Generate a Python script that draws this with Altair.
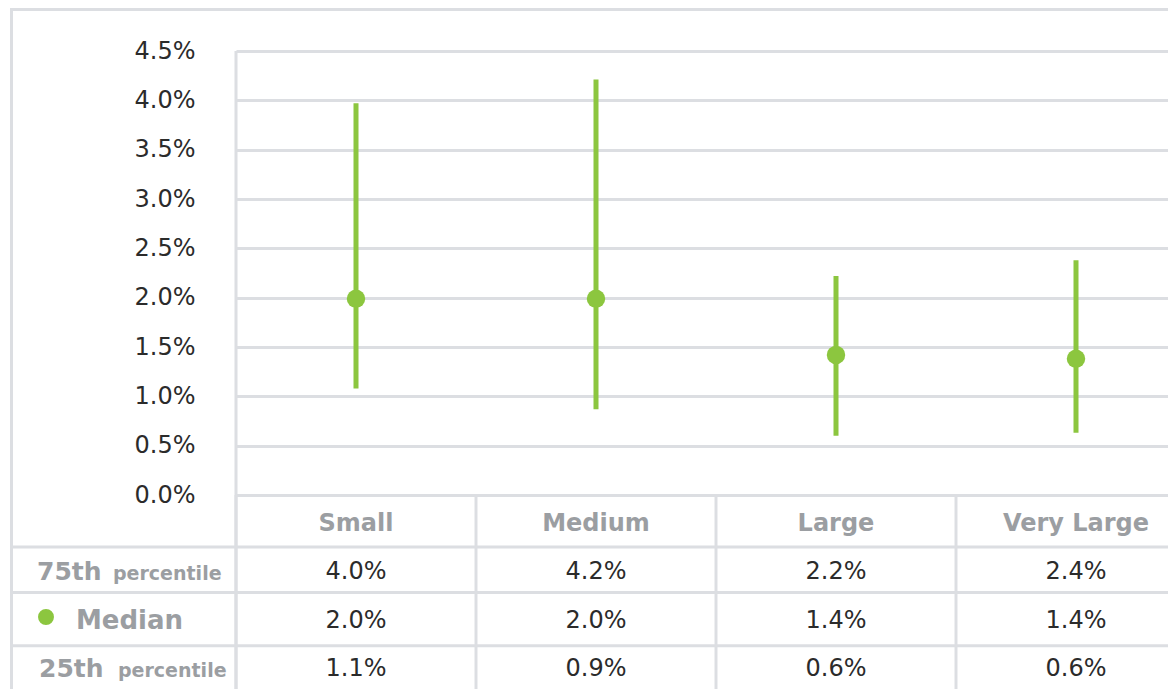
import altair as alt
import pandas as pd

# ---- data ----
categories = ["Small", "Medium", "Large", "Very Large"]
p75 = [3.97, 4.21, 2.22, 2.38]
median = [1.99, 1.99, 1.42, 1.38]
p25 = [1.08, 0.87, 0.60, 0.63]
y_ticks = [0.0, 0.5, 1.0, 1.5, 2.0, 2.5, 3.0, 3.5, 4.0, 4.5]
row_keys = ["header", "p75", "median", "p25"]

GREEN = "#8cc63f"
GRID = "#dcdee2"
GRAY_TXT = "#9b9ea2"
DARK = "#2b2b2b"
FONT = "DejaVu Sans"

df = pd.DataFrame({"cat": categories, "p75": p75, "median": median, "p25": p25})
long = df.melt(id_vars="cat", value_vars=["p75", "median", "p25"],
               var_name="row", value_name="val")
one = pd.DataFrame({"k": [0]})

xscale = alt.Scale(domain=categories, range=[0, 960], paddingInner=0, paddingOuter=0)
yscale = alt.Scale(domain=[0, 4.5], nice=False, zero=True)
rowscale = alt.Scale(domain=row_keys, range=[473, 618], padding=0)

yaxis = alt.Axis(values=y_ticks, labelExpr="format(datum.value, '.1f') + '%'",
                 grid=True, gridColor=GRID, gridWidth=3, domain=False,
                 ticks=False, tickSize=0, labelPadding=41, labelFont=FONT,
                 labelFontSize=24, labelColor=DARK, title=None)


def X(bp=0.5):
    return alt.X("cat:N", scale=xscale, axis=None, sort=categories, bandPosition=bp)


def ROW():
    return alt.Y("row:N", scale=rowscale, axis=None, sort=row_keys)


def hline(y, x0=-224.5, x1=940):
    return alt.Chart(one).mark_rule(color=GRID, strokeWidth=3).encode(
        x=alt.value(x0), x2=alt.value(x1), y=alt.value(y))


def vline(x, y0, y1):
    return alt.Chart(one).mark_rule(color=GRID, strokeWidth=3).encode(
        x=alt.value(x), y=alt.value(y0), y2=alt.value(y1))


def label(text, x, row, size, dy=0):
    return alt.Chart(pd.DataFrame({"t": [text], "row": [row]})).mark_text(
        font=FONT, fontSize=size, fontWeight="bold", color=GRAY_TXT,
        align="left", baseline="middle", dy=dy).encode(
        x=alt.value(x), y=ROW(), text="t:N")


ranges = alt.Chart(df).mark_rule(color=GREEN, strokeWidth=5).encode(
    x=X(), y=alt.Y("p25:Q", scale=yscale, axis=yaxis), y2="p75:Q")

points = alt.Chart(df).mark_circle(color=GREEN, size=340, opacity=1).encode(
    x=X(), y=alt.Y("median:Q", scale=yscale, axis=None))

separators = alt.Chart(df).mark_rule(color=GRID, strokeWidth=3).encode(
    x=X(0), y=alt.value(444), y2=alt.value(640))

header = alt.Chart(df).transform_calculate(row="'header'").mark_text(
    font=FONT, fontSize=24, fontWeight="bold", color=GRAY_TXT,
    baseline="middle").encode(x=X(), y=ROW(), text="cat:N")

values = alt.Chart(long).transform_calculate(
    label="format(datum.val, '.1f') + '%'").mark_text(
    font=FONT, fontSize=24, color=DARK, baseline="middle").encode(
    x=X(), y=ROW(), text="label:N")

legend_dot = alt.Chart(one).mark_circle(color=GREEN, size=254, opacity=1).encode(
    x=alt.value(-190), y=alt.value(566))

layers = [
    vline(-224.5, -43, 640),
    hline(-41.5),
    hline(496), hline(541.5), hline(594.7),
    vline(0, 0, 640),
    separators,
    ranges, points,
    header, values,
    label("75th", -199, "p75", 25),
    label("percentile", -123, "p75", 19, dy=1.8),
    label("Median", -160, "median", 26),
    label("25th", -197, "p25", 25),
    label("percentile", -118, "p25", 19, dy=1.8),
    legend_dot,
]

chart = alt.layer(*layers).resolve_scale(y="independent").properties(
    width=932, height=444,
    autosize=alt.AutoSizeParams(type="none"),
    padding={"left": 228, "top": 43, "right": 0, "bottom": 194},
    background="white",
).configure_view(strokeWidth=0)

chart.save("out.html", embed_options={"renderer": "svg", "actions": False})
